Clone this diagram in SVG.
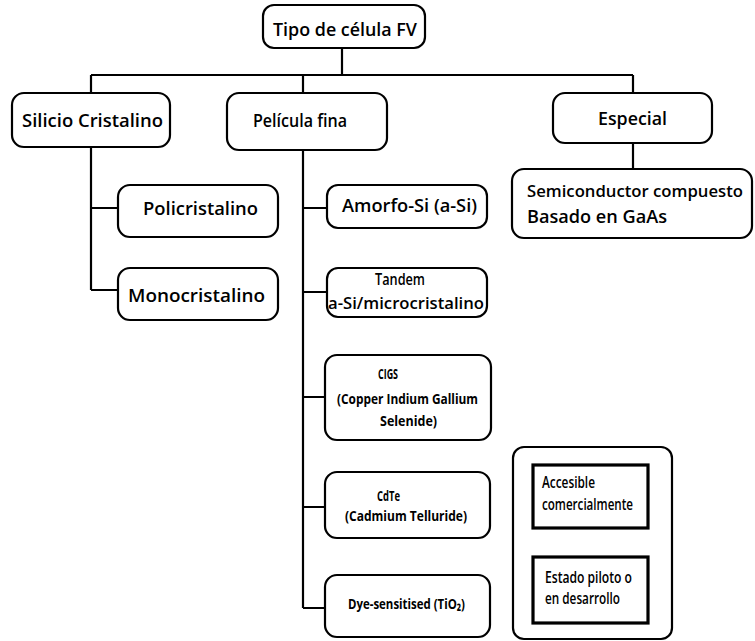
<svg xmlns="http://www.w3.org/2000/svg" width="755" height="641" viewBox="0 0 755 641">
<style>
  .box{fill:#fff;stroke:#000;stroke-width:2.2}
  .sq{fill:#fff;stroke:#000;stroke-width:3.2}
  .ln{stroke:#000;stroke-width:2.2;fill:none}
  text{font-family:"Open Sans","Liberation Sans",sans-serif;font-weight:600;fill:#000}
  .big{font-size:18px}
  .sm{font-size:15px;font-weight:700}
  .lg{font-size:16px}
</style>
<rect width="755" height="641" fill="#fff"/>
<g id="connectors">
  <path class="ln" d="M342 48V75M91 75H633M91 75V93M303 75V93M633 75V93"/>
  <path class="ln" d="M91 147V290M91 208H118M91 290H118"/>
  <path class="ln" d="M303 150V608M303 208H327M303 292H327M303 397H326M303 507H326M303 608H326"/>
  <path class="ln" d="M633 143V169"/>
</g>
<g id="n-tipo"><rect class="box" x="263" y="5" width="162" height="43" rx="11"/><text class="big" x="273" y="36" textLength="144" lengthAdjust="spacingAndGlyphs">Tipo de célula FV</text></g>
<g id="n-silicio"><rect class="box" x="12" y="93" width="158" height="54" rx="12"/><text class="big" x="22" y="127" textLength="141" lengthAdjust="spacingAndGlyphs">Silicio Cristalino</text></g>
<g id="n-pelicula"><rect class="box" x="227" y="93" width="160" height="57" rx="12"/><text class="big" x="253" y="127" textLength="94" lengthAdjust="spacingAndGlyphs">Película fina</text></g>
<g id="n-especial"><rect class="box" x="553" y="93" width="159" height="50" rx="12"/><text class="big" x="598" y="125" textLength="69" lengthAdjust="spacingAndGlyphs">Especial</text></g>
<g id="n-semi"><rect class="box" x="512" y="169" width="240" height="69" rx="12"/><text class="big" x="527" y="197" font-size="17" style="font-size:17px" textLength="216" lengthAdjust="spacingAndGlyphs">Semiconductor compuesto</text><text class="big" x="527" y="223" textLength="140" lengthAdjust="spacingAndGlyphs">Basado en GaAs</text></g>
<g id="n-poli"><rect class="box" x="118" y="185" width="160" height="52" rx="12"/><text class="big" x="143" y="215" textLength="115" lengthAdjust="spacingAndGlyphs">Policristalino</text></g>
<g id="n-mono"><rect class="box" x="118" y="268" width="160" height="52" rx="12"/><text class="big" x="128" y="302" textLength="137" lengthAdjust="spacingAndGlyphs">Monocristalino</text></g>
<g id="n-amorfo"><rect class="box" x="327" y="185" width="160" height="43" rx="11"/><text class="big" x="342" y="212" textLength="135" lengthAdjust="spacingAndGlyphs">Amorfo-Si (a-Si)</text></g>
<g id="n-tandem"><rect class="box" x="327" y="268" width="160" height="49" rx="11"/><text class="lg" x="375" y="285" textLength="50" lengthAdjust="spacingAndGlyphs">Tandem</text><text class="lg" x="328" y="309" textLength="156" lengthAdjust="spacingAndGlyphs">a-Si/microcristalino</text></g>
<g id="n-cigs"><rect class="box" x="325" y="355" width="166" height="85" rx="12"/><text class="sm" x="378" y="379" textLength="20" lengthAdjust="spacingAndGlyphs">CIGS</text><text class="sm" x="337" y="404" textLength="141" lengthAdjust="spacingAndGlyphs">(Copper Indium Gallium</text><text class="sm" x="380" y="426" textLength="57" lengthAdjust="spacingAndGlyphs">Selenide)</text></g>
<g id="n-cdte"><rect class="box" x="325" y="472" width="165" height="66" rx="12"/><text class="sm" x="377" y="501" textLength="23" lengthAdjust="spacingAndGlyphs">CdTe</text><text class="sm" x="345" y="521" textLength="122" lengthAdjust="spacingAndGlyphs">(Cadmium Telluride)</text></g>
<g id="n-dye"><rect class="box" x="325" y="575" width="165" height="62" rx="12"/><text class="sm" x="348" y="609" textLength="117" lengthAdjust="spacingAndGlyphs">Dye-sensitised (TiO₂)</text></g>
<g id="legend">
  <rect class="box" x="513" y="447" width="159" height="192" rx="11"/>
  <rect class="sq" x="533" y="465" width="115" height="63"/>
  <text class="lg" x="542" y="488" textLength="53" lengthAdjust="spacingAndGlyphs">Accesible</text>
  <text class="lg" x="542" y="510" textLength="91" lengthAdjust="spacingAndGlyphs">comercialmente</text>
  <rect class="sq" x="533" y="557" width="115" height="66"/>
  <text class="lg" x="545" y="583" textLength="87" lengthAdjust="spacingAndGlyphs">Estado piloto o</text>
  <text class="lg" x="545" y="604" textLength="75" lengthAdjust="spacingAndGlyphs">en desarrollo</text>
</g>
</svg>
